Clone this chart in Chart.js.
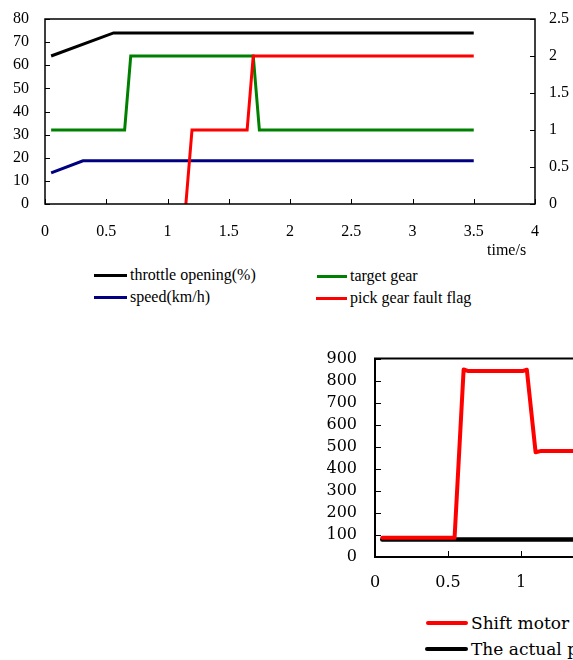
<!DOCTYPE html>
<html lang="en">
<head>
  <meta charset="UTF-8">
  <title>Gear shift fault</title>
  <script src="https://cdn.jsdelivr.net/npm/chart.js"></script>
  <style>
    html, body {
      margin: 0;
      padding: 0;
      background: #fff;
      overflow: hidden;
    }
    body {
      position: relative;
      width: 573px;
      height: 660px;
      font-family: "Liberation Serif", serif;
      color: #000;
    }
    canvas {
      position: absolute;
    }
    #topChart {
      left: 0;
      top: 0;
    }
    #bottomChart {
      left: 300px;
      top: 340px;
    }
    .item {
      position: absolute;
      display: flex;
      align-items: center;
      height: 20px;
      font-size: 16px;
      white-space: nowrap;
    }
    .item span.line {
      display: inline-block;
      height: 3px;
      margin-right: 3px;
    }
    .item.big {
      font-family: "DejaVu Serif", serif;
      font-size: 17px;
    }
    .item.big span.line {
      height: 4px;
      border-radius: 2px;
    }
    #timeLabel {
      position: absolute;
      left: 487px;
      top: 240px;
      font-size: 16px;
      line-height: 20px;
    }
  </style>
</head>
<body>
  <canvas id="topChart" width="573" height="260"></canvas>
  <div id="timeLabel">time/s</div>

  <div class="item" style="left:94px; top:265px;"><span class="line" style="width:33px;background:#000;"></span>throttle opening(%)</div>
  <div class="item" style="left:317px; top:266px;"><span class="line" style="width:30px;background:#008000;"></span>target gear</div>
  <div class="item" style="left:94px; top:287px;"><span class="line" style="width:33px;background:#000080;"></span>speed(km/h)</div>
  <div class="item" style="left:316px; top:288px;"><span class="line" style="width:31px;background:#ff0000;"></span>pick gear fault flag</div>

  <canvas id="bottomChart" width="700" height="260"></canvas>

  <div class="item big" style="left:426px; top:613px;"><span class="line" style="width:42px;background:#ff0000;"></span>Shift motor current(mA)</div>
  <div class="item big" style="left:425px; top:639px;"><span class="line" style="width:43px;background:#000;"></span>The actual position</div>

  <script>
    // top chart: time in s
    const throttleTime = [0.05, 0.56, 3.5];
    const throttleValue = [64, 74, 74];
    const speedTime = [0.05, 0.31, 3.5];
    const speedValue = [13.5, 18.7, 18.7];
    const gearTime = [0.05, 0.65, 0.70, 1.70, 1.75, 3.5];
    const gearValue = [1, 1, 2, 2, 1, 1];
    const flagTime = [1.15, 1.20, 1.65, 1.70, 3.5];
    const flagValue = [0, 1, 1, 2, 2];

    // bottom chart
    const motorTime = [0.05, 0.545, 0.607, 0.64, 1.01, 1.04, 1.10, 1.14, 1.4];
    const motorValue = [87, 87, 850, 843, 843, 849, 475, 481, 481];
    const actualTime = [0.05, 1.4];
    const actualValue = [79, 79];

    const xTicks = { min: 0, max: 4, step: 0.5 };

    Chart.defaults.font.family = '"Liberation Serif", "Times New Roman", serif';
    Chart.defaults.font.size = 16;
    Chart.defaults.color = '#000';

    function points(ts, vs) {
      return ts.map((t, i) => ({ x: t, y: vs[i] }));
    }

    const fmt = v => String(Number(v.toFixed(2)));

    // box round the plot plus inward tick marks
    const frame = {
      id: 'frame',
      afterDatasetsDraw(chart, args, opts) {
        const a = chart.chartArea;
        const ctx = chart.ctx;
        const len = opts.tick || 5;
        ctx.save();
        ctx.strokeStyle = '#000';
        ctx.lineWidth = 1;
        ctx.beginPath();
        Object.values(chart.scales).forEach(s => {
          s.ticks.forEach(t => {
            const p = Math.round(s.getPixelForValue(t.value)) + 0.5;
            if (s.position === 'bottom') {
              ctx.moveTo(p, a.bottom);
              ctx.lineTo(p, a.bottom - len);
            } else if (s.position === 'left') {
              ctx.moveTo(a.left, p);
              ctx.lineTo(a.left + len, p);
            } else if (s.position === 'right') {
              ctx.moveTo(a.right, p);
              ctx.lineTo(a.right - len, p);
            }
          });
        });
        ctx.stroke();
        ctx.lineWidth = opts.width || 1.5;
        ctx.strokeRect(a.left, a.top, a.right - a.left, a.bottom - a.top);
        ctx.restore();
      }
    };

    function fixSize(w, h) {
      return s => {
        if (w != null) s.width = w;
        if (h != null) s.height = h;
        s.paddingTop = 0;
        s.paddingBottom = 0;
        s.paddingLeft = 0;
        s.paddingRight = 0;
      };
    }

    function line(label, data, color, axis, width, order, join) {
      return {
        label: label,
        data: data,
        borderColor: color,
        backgroundColor: color,
        borderWidth: width,
        borderJoinStyle: join || 'miter',
        borderCapStyle: join === 'round' ? 'round' : 'butt',
        pointRadius: 0,
        tension: 0,
        fill: false,
        yAxisID: axis,
        order: order
      };
    }

    const noGrid = { display: false, drawTicks: false };
    const bottomFont = { family: '"DejaVu Serif", serif', size: 16 };

    function drawCharts() {
      new Chart(document.getElementById('topChart'), {
        type: 'line',
        data: {
          datasets: [
            line('throttle opening(%)', points(throttleTime, throttleValue), '#000000', 'y', 3, 1),
            line('target gear', points(gearTime, gearValue), '#008000', 'y1', 3, 1),
            line('speed(km/h)', points(speedTime, speedValue), '#000080', 'y', 3, 1),
            line('pick gear fault flag', points(flagTime, flagValue), '#ff0000', 'y1', 3, 0)
          ]
        },
        options: {
          responsive: false,
          animation: false,
          layout: { padding: { top: 19, left: 0, right: 0, bottom: 0 } },
          plugins: {
            legend: { display: false },
            tooltip: { enabled: false },
            frame: { width: 1.5, tick: 5 }
          },
          scales: {
            x: {
              type: 'linear',
              min: xTicks.min,
              max: xTicks.max,
              border: { display: false },
              grid: noGrid,
              ticks: { stepSize: xTicks.step, padding: 18, maxRotation: 0, autoSkip: false, callback: fmt },
              afterFit: fixSize(null, 56)
            },
            y: {
              position: 'left',
              min: 0,
              max: 80,
              border: { display: false },
              grid: noGrid,
              ticks: { stepSize: 10, padding: 16, autoSkip: false, callback: fmt },
              afterFit: fixSize(45, null)
            },
            y1: {
              position: 'right',
              min: 0,
              max: 2.5,
              border: { display: false },
              grid: noGrid,
              ticks: { stepSize: 0.5, padding: 14, autoSkip: false, callback: fmt },
              afterFit: fixSize(38, null)
            }
          }
        },
        plugins: [frame]
      });

      new Chart(document.getElementById('bottomChart'), {
        type: 'line',
        data: {
          datasets: [
            line('Shift motor current(mA)', points(motorTime, motorValue), '#ff0000', 'y', 4, 0, 'round'),
            line('The actual position', points(actualTime, actualValue), '#000000', 'y', 4.5, 1, 'round')
          ]
        },
        options: {
          responsive: false,
          animation: false,
          layout: { padding: { top: 18.5, left: 0, right: 41, bottom: 0 } },
          plugins: {
            legend: { display: false },
            tooltip: { enabled: false },
            frame: { width: 2, tick: 6 }
          },
          scales: {
            x: {
              type: 'linear',
              min: xTicks.min,
              max: xTicks.max,
              border: { display: false },
              grid: noGrid,
              ticks: { stepSize: xTicks.step, padding: 16, maxRotation: 0, autoSkip: false, font: bottomFont, callback: fmt },
              afterFit: fixSize(null, 43)
            },
            y: {
              min: 0,
              max: 900,
              border: { display: false },
              grid: noGrid,
              ticks: { stepSize: 100, padding: 18, autoSkip: false, font: bottomFont, callback: fmt },
              afterFit: fixSize(75, null)
            }
          }
        },
        plugins: [frame]
      });
    }

    // make sure the serif faces are ready before the canvas text is drawn
    Promise.all([
      document.fonts.load('16px "Liberation Serif"'),
      document.fonts.load('16px "DejaVu Serif"')
    ]).then(drawCharts, drawCharts);
  </script>
</body>
</html>
